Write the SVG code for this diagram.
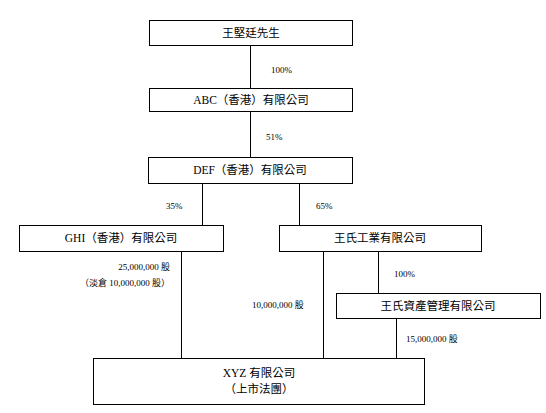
<svg xmlns="http://www.w3.org/2000/svg" width="546" height="413" viewBox="0 0 546 413">
<style>
.box{fill:#fff;stroke:#000;stroke-width:1}
.ln{stroke:#000;stroke-width:1;fill:none}
.t{font-family:"Liberation Serif","Noto Sans CJK TC",serif;font-size:11.5px;fill:#000;text-anchor:middle}
.l{font-family:"Liberation Serif","Noto Sans CJK TC",serif;font-size:9px;fill:#000}
</style>
<rect width="546" height="413" fill="#fff"/>
<g id="connectors">
<line class="ln" x1="250.5" y1="45" x2="250.5" y2="89"/>
<line class="ln" x1="250.5" y1="111" x2="250.5" y2="157"/>
<line class="ln" x1="202.5" y1="183" x2="202.5" y2="225"/>
<line class="ln" x1="299.5" y1="183" x2="299.5" y2="225"/>
<line class="ln" x1="181.5" y1="251" x2="181.5" y2="358"/>
<line class="ln" x1="323.5" y1="251" x2="323.5" y2="358"/>
<line class="ln" x1="378.5" y1="251" x2="378.5" y2="293"/>
<line class="ln" x1="396.5" y1="318" x2="396.5" y2="358"/>
<text class="l" x="271" y="73">100%</text>
<text class="l" x="266" y="140">51%</text>
<text class="l" x="166" y="209">35%</text>
<text class="l" x="316" y="209">65%</text>
<text class="l" x="170" y="270" text-anchor="end">25,000,000 股</text>
<text class="l" x="170" y="286" text-anchor="end">（淡倉 10,000,000 股）</text>
<text class="l" x="394" y="277">100%</text>
<text class="l" x="252" y="308">10,000,000 股</text>
<text class="l" x="406" y="342">15,000,000 股</text>
</g>
<g id="n1"><rect class="box" x="149.5" y="20.5" width="203" height="25"/><text class="t" x="251" y="37">王堅廷先生</text></g>
<g id="n2"><rect class="box" x="149.5" y="88.5" width="203" height="23"/><text class="t" x="251" y="104">ABC（香港）有限公司</text></g>
<g id="n3"><rect class="box" x="148.5" y="157.5" width="204" height="26"/><text class="t" x="250" y="174">DEF（香港）有限公司</text></g>
<g id="n4"><rect class="box" x="19.5" y="225.5" width="204" height="26"/><text class="t" x="121" y="242">GHI（香港）有限公司</text></g>
<g id="n5"><rect class="box" x="279.5" y="225.5" width="202" height="26"/><text class="t" x="380" y="242">王氏工業有限公司</text></g>
<g id="n6"><rect class="box" x="336.5" y="293.5" width="204" height="25"/><text class="t" x="438" y="310">王氏資產管理有限公司</text></g>
<g id="n7"><rect class="box" x="93.5" y="358.5" width="331" height="46"/><text class="t" x="259" y="377">XYZ 有限公司</text><text class="t" x="259" y="393">（上市法團）</text></g>
</svg>
